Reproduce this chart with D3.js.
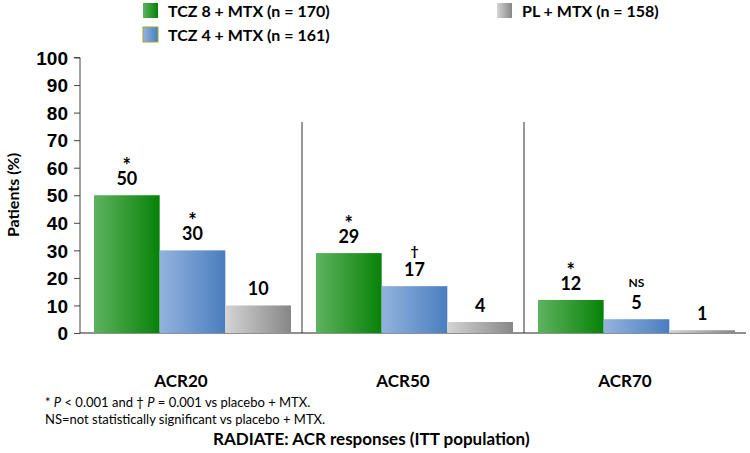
<!DOCTYPE html>
<html><head><meta charset="utf-8">
<script src="https://cdn.jsdelivr.net/npm/d3@7"></script>
<style>body{margin:0;background:#fff}svg{display:block}</style>
</head><body><svg id="c" width="750" height="453"></svg>
<script>
const categories = ["ACR20", "ACR50", "ACR70"];
const seriesNames = ["TCZ 8 + MTX (n = 170)", "TCZ 4 + MTX (n = 161)", "PL + MTX (n = 158)"];
const tcz8 = [50, 29, 12];
const tcz4 = [30, 17, 5];
const placebo = [10, 4, 1];
const tcz8Marks = ["*", "*", "*"];
const tcz4Marks = ["*", "\u2020", "NS"];
const placeboMarks = ["", "", ""];
const yTicks = [0,10,20,30,40,50,60,70,80,90,100];
const footnotes = ["NS=not statistically significant vs placebo + MTX."];
const title = "RADIATE: ACR responses (ITT population)";

(function(){
const series = [
  {name: seriesNames[0], values: tcz8, marks: tcz8Marks, c0:"#5fb35f", c1:"#078207"},
  {name: seriesNames[1], values: tcz4, marks: tcz4Marks, c0:"#93b3de", c1:"#4a7ebf"},
  {name: seriesNames[2], values: placebo, marks: placeboMarks, c0:"#d4d4d4", c1:"#878787"}
];

const svg = d3.select("#c");
const defs = svg.append("defs");
series.forEach((s,i)=>{
  const g = defs.append("linearGradient").attr("id","g"+i).attr("x1","0").attr("x2","1").attr("y1","0").attr("y2","0");
  g.append("stop").attr("offset","0").attr("stop-color",s.c0);
  g.append("stop").attr("offset","1").attr("stop-color",s.c1);
});

const mL = 80, mR = 746, mT = 57.5, mB = 333;
const y = d3.scaleLinear().domain([0,100]).range([mB, mT]);
const x0 = d3.scaleBand().domain(categories).range([mL, mL + 3*222]).paddingInner(0).paddingOuter(0);
const x1 = d3.scaleBand().domain(d3.range(3)).range([14, 14+197]);

const lab = "'Lato','Open Sans',sans-serif";

// y axis
const yAxis = d3.axisLeft(y).tickValues(yTicks).tickSize(6).tickFormat(d3.format("d"));
const ga = svg.append("g").attr("transform",`translate(${mL},0)`).call(yAxis);
ga.select(".domain").attr("stroke","#444").attr("d",`M-6,${mT}H0V${mB}`);
ga.selectAll(".tick line").attr("stroke","#444");
ga.selectAll(".tick text").attr("x",-12).attr("dy","0.35em")
  .style("font-family","'Liberation Sans',Arial,sans-serif").style("font-weight","bold").style("font-size","19px").attr("fill","#000");

// x axis line
svg.append("line").attr("x1",mL).attr("x2",mR).attr("y1",mB).attr("y2",mB).attr("stroke","#222").attr("stroke-width",1.2);

// separators
categories.slice(1).forEach(c=>{
  svg.append("line").attr("x1",x0(c)).attr("x2",x0(c)).attr("y1",122).attr("y2",mB).attr("stroke","#333").attr("stroke-width",1);
});

// bars
series.forEach((s,i)=>{
  const g = svg.append("g");
  g.selectAll("rect").data(categories).join("rect")
    .attr("x",c=>x0(c)+x1(i)).attr("width",x1.bandwidth())
    .attr("y",(c,j)=>y(s.values[j])).attr("height",(c,j)=>mB-y(s.values[j]))
    .attr("fill",`url(#g${i})`);
  g.selectAll("text.v").data(categories).join("text").attr("class","v")
    .attr("x",c=>x0(c)+x1(i)+x1.bandwidth()/2).attr("y",(c,j)=>y(s.values[j])-10)
    .attr("text-anchor","middle").style("font-family",lab).style("font-weight","bold").style("font-size","18px")
    .text((c,j)=>s.values[j]);
  g.selectAll("text.m").data(categories).join("text").attr("class","m")
    .attr("x",c=>x0(c)+x1(i)+x1.bandwidth()/2).attr("y",(c,j)=>y(s.values[j])-(s.marks[j]==="NS"?32:30))
    .attr("text-anchor","middle").style("font-family",lab).style("font-weight","bold")
    .style("font-size",(c,j)=>s.marks[j]==="NS"?"12px":(s.marks[j]==="*"?"20px":"14px"))
    .attr("dy",(c,j)=>s.marks[j]==="*"?"0.4em":"0")
    .text((c,j)=>s.marks[j]);
});

// category labels
svg.selectAll("text.cat").data(categories).join("text").attr("class","cat")
  .attr("x",c=>x0(c)+x0.bandwidth()/2-10).attr("y",387).attr("text-anchor","middle")
  .style("font-family",lab).style("font-weight","bold").style("font-size","17px").text(c=>c);

// y title
svg.append("text").attr("transform","translate(19,195) rotate(-90)").attr("text-anchor","middle")
  .style("font-family",lab).style("font-weight","bold").style("font-size","16px").text("Patients (%)");

// legend
const legPos = [[143,3],[143,27],[497,3]];
series.forEach((s,i)=>{
  const [lx,ly] = legPos[i];
  svg.append("rect").attr("x",lx).attr("y",ly).attr("width",15).attr("height",15).attr("fill",`url(#g${i})`)
    .attr("stroke", i===1?"#9aaa30":"none").attr("stroke-width",1);
  svg.append("text").attr("x",lx+25).attr("y",ly+14).style("font-family",lab).style("font-weight","bold").style("font-size","16px").text(s.name);
});

// footnotes
const fn = svg.append("text").attr("x",45).attr("y",407).style("font-family",lab).style("font-size","13px");
fn.append("tspan").text("* ");
fn.append("tspan").style("font-style","italic").text("P");
fn.append("tspan").text(" < 0.001 and \u2020 ");
fn.append("tspan").style("font-style","italic").text("P");
fn.append("tspan").text(" = 0.001 vs placebo + MTX.");
svg.append("text").attr("x",45).attr("y",424).style("font-family",lab).style("font-size","13px").text(footnotes[0]);

svg.append("text").attr("x",213).attr("y",445).style("font-family",lab).style("font-weight","bold").style("font-size","17px").text(title);
})();
</script></body></html>
